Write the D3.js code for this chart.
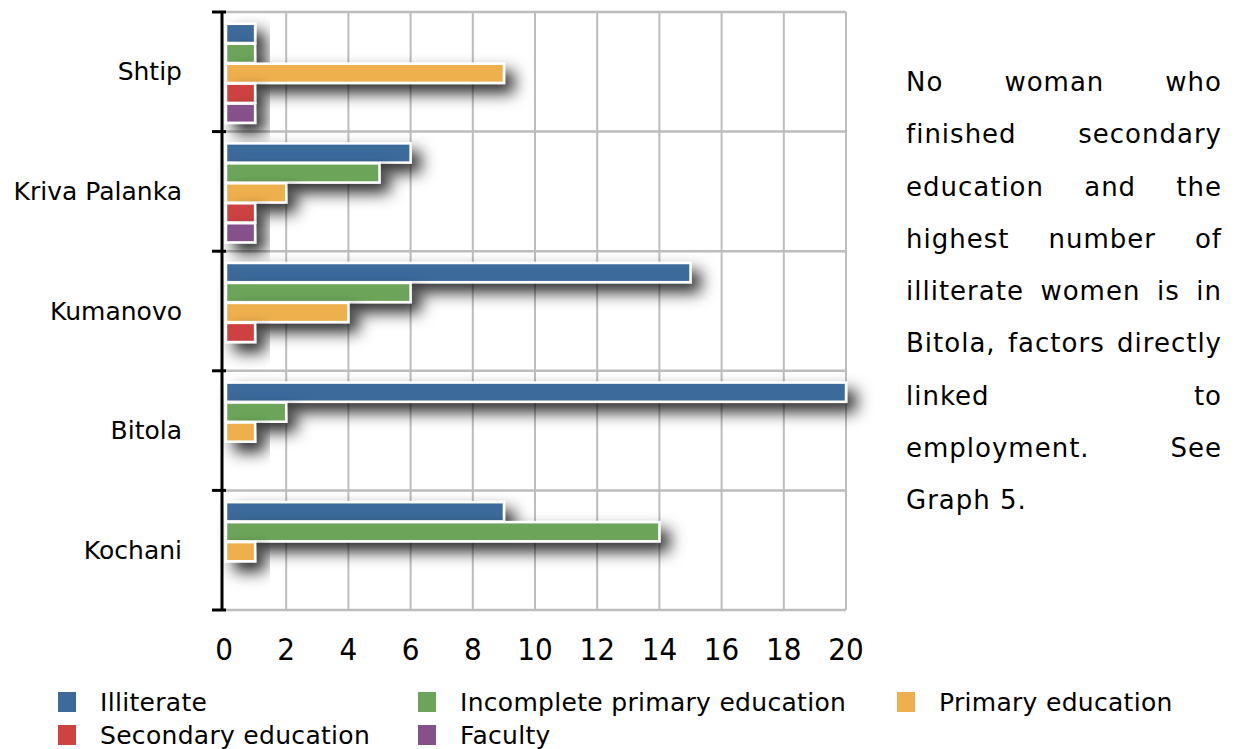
<!DOCTYPE html>
<html>
<head>
<meta charset="utf-8">
<script src="https://cdn.jsdelivr.net/npm/d3@7/dist/d3.min.js"></script>
<style>
  html, body { margin: 0; padding: 0; background: #fff; }
  body { position: relative; width: 1235px; height: 749px; overflow: hidden; }
  svg { display: block; }
  text { font-family: "DejaVu Sans", sans-serif; fill: #000; }
  #note { position: absolute; font-family: "DejaVu Sans", sans-serif; color: #000; }
  #note div { white-space: nowrap; text-align: justify; text-align-last: justify; }
  #note div.last { text-align-last: left; }
</style>
</head>
<body>
<svg id="chart" width="1235" height="749"></svg>
<script>
// Towns (top to bottom) and education levels
const towns = ["Shtip", "Kriva Palanka", "Kumanovo", "Bitola", "Kochani"];
const levels = ["Illiterate", "Incomplete primary education", "Primary education", "Secondary education", "Faculty"];
const levelColors = ["#3b6a9b", "#6ca55a", "#eeb04d", "#cd4340", "#84518a"];

// Number of women per level, one array per town
const shtip        = [1, 1, 9, 1, 1];
const krivaPalanka = [6, 5, 2, 1, 1];
const kumanovo     = [15, 6, 4, 1, 0];
const bitola       = [20, 2, 1, 0, 0];
const kochani      = [9, 14, 1, 0, 0];
const townValues = [shtip, krivaPalanka, kumanovo, bitola, kochani];

const xTicks = [0, 2, 4, 6, 8, 10, 12, 14, 16, 18, 20];

// Side note, one entry per printed line
const noteLines = [
  "No woman who",
  "finished secondary",
  "education and the",
  "highest number of",
  "illiterate women is in",
  "Bitola, factors directly",
  "linked to",
  "employment. See",
  "Graph 5."
];

const svg = d3.select("#chart");
const plot = { left: 224, right: 846, top: 12, bottom: 610 };

const x = d3.scaleLinear().domain([0, 20]).range([plot.left, plot.right]);
const y = d3.scaleBand().domain(towns).range([plot.top, plot.bottom]).padding(0);
const inner = d3.scaleBand().domain(levels).range([11, y.bandwidth() - 8]).padding(0.04);

// Soft drop shadow under the bars
const defs = svg.append("defs");
const f = defs.append("filter").attr("id", "shadow")
  .attr("x", "-10%").attr("y", "-100%").attr("width", "160%").attr("height", "400%");
f.append("feDropShadow").attr("dx", 9).attr("dy", 9).attr("stdDeviation", 8)
  .attr("flood-color", "#000").attr("flood-opacity", 0.85);

// Grid
const grid = svg.append("g");
grid.selectAll("line.v").data(xTicks.slice(1)).join("line")
  .attr("x1", d => x(d)).attr("x2", d => x(d))
  .attr("y1", plot.top).attr("y2", plot.bottom)
  .attr("stroke", "#bdbdbd").attr("stroke-width", 2);
const bounds = towns.map(t => y(t)).concat([plot.bottom]);
grid.selectAll("line.h").data(bounds).join("line")
  .attr("x1", plot.left).attr("x2", plot.right)
  .attr("y1", d => d).attr("y2", d => d)
  .attr("stroke", "#bdbdbd").attr("stroke-width", 2.5);

// Bars
const groups = svg.append("g").selectAll("g").data(towns).join("g")
  .attr("transform", d => `translate(0,${y(d)})`);
groups.each(function(town, ti) {
  const vals = townValues[ti].map((v, i) => ({ level: levels[i], value: v, color: levelColors[i] }))
    .filter(d => d.value > 0);
  d3.select(this).selectAll("rect").data(vals).join("rect")
    .attr("x", x(0) + 2)
    .attr("y", d => inner(d.level))
    .attr("width", d => x(d.value) - x(0) - 2)
    .attr("height", inner.bandwidth())
    .attr("fill", d => d.color)
    .attr("stroke", "#fff").attr("stroke-width", 2.5)
    .attr("filter", "url(#shadow)");
});

// Left axis with ticks at the band boundaries
const ax = svg.append("g");
ax.append("line").attr("x1", plot.left - 2).attr("x2", plot.left - 2)
  .attr("y1", plot.top).attr("y2", plot.bottom)
  .attr("stroke", "#000").attr("stroke-width", 3);
ax.selectAll("line.t").data(bounds).join("line")
  .attr("x1", plot.left - 12).attr("x2", plot.left + 2)
  .attr("y1", d => d).attr("y2", d => d)
  .attr("stroke", "#000").attr("stroke-width", 3);

// Town labels
svg.append("g").selectAll("text").data(towns).join("text")
  .attr("x", 182).attr("y", d => y(d) + y.bandwidth() / 2)
  .attr("text-anchor", "end").attr("dominant-baseline", "central")
  .style("font-size", "25px")
  .text(d => d);

// Value axis labels
svg.append("g").selectAll("text").data(xTicks).join("text")
  .attr("x", d => x(d)).attr("y", 660)
  .attr("text-anchor", "middle")
  .style("font-family", "'DejaVu Sans Condensed', 'DejaVu Sans', sans-serif")
  .style("font-size", "31px")
  .text(d => d);

// Legend
const legendPos = [[58, 702], [418, 702], [897, 702], [58, 735], [418, 735]];
const lg = svg.append("g").selectAll("g").data(levels).join("g")
  .attr("transform", (d, i) => `translate(${legendPos[i][0]},${legendPos[i][1]})`);
lg.append("rect").attr("x", 0).attr("y", -10).attr("width", 18).attr("height", 20)
  .attr("fill", (d, i) => levelColors[i]);
lg.append("text").attr("x", 42).attr("y", 0).attr("dominant-baseline", "central")
  .style("font-size", "25px").style("letter-spacing", "0.3px").text(d => d);

// Justified note on the right
const note = d3.select("body").append("div").attr("id", "note")
  .style("left", "906px").style("top", "56px").style("width", "316px")
  .style("font-size", "26px").style("letter-spacing", "1px")
  .style("line-height", "52.3px");
note.selectAll("div").data(noteLines).join("div")
  .classed("last", (d, i) => i === noteLines.length - 1)
  .text(d => d);
</script>
</body>
</html>
